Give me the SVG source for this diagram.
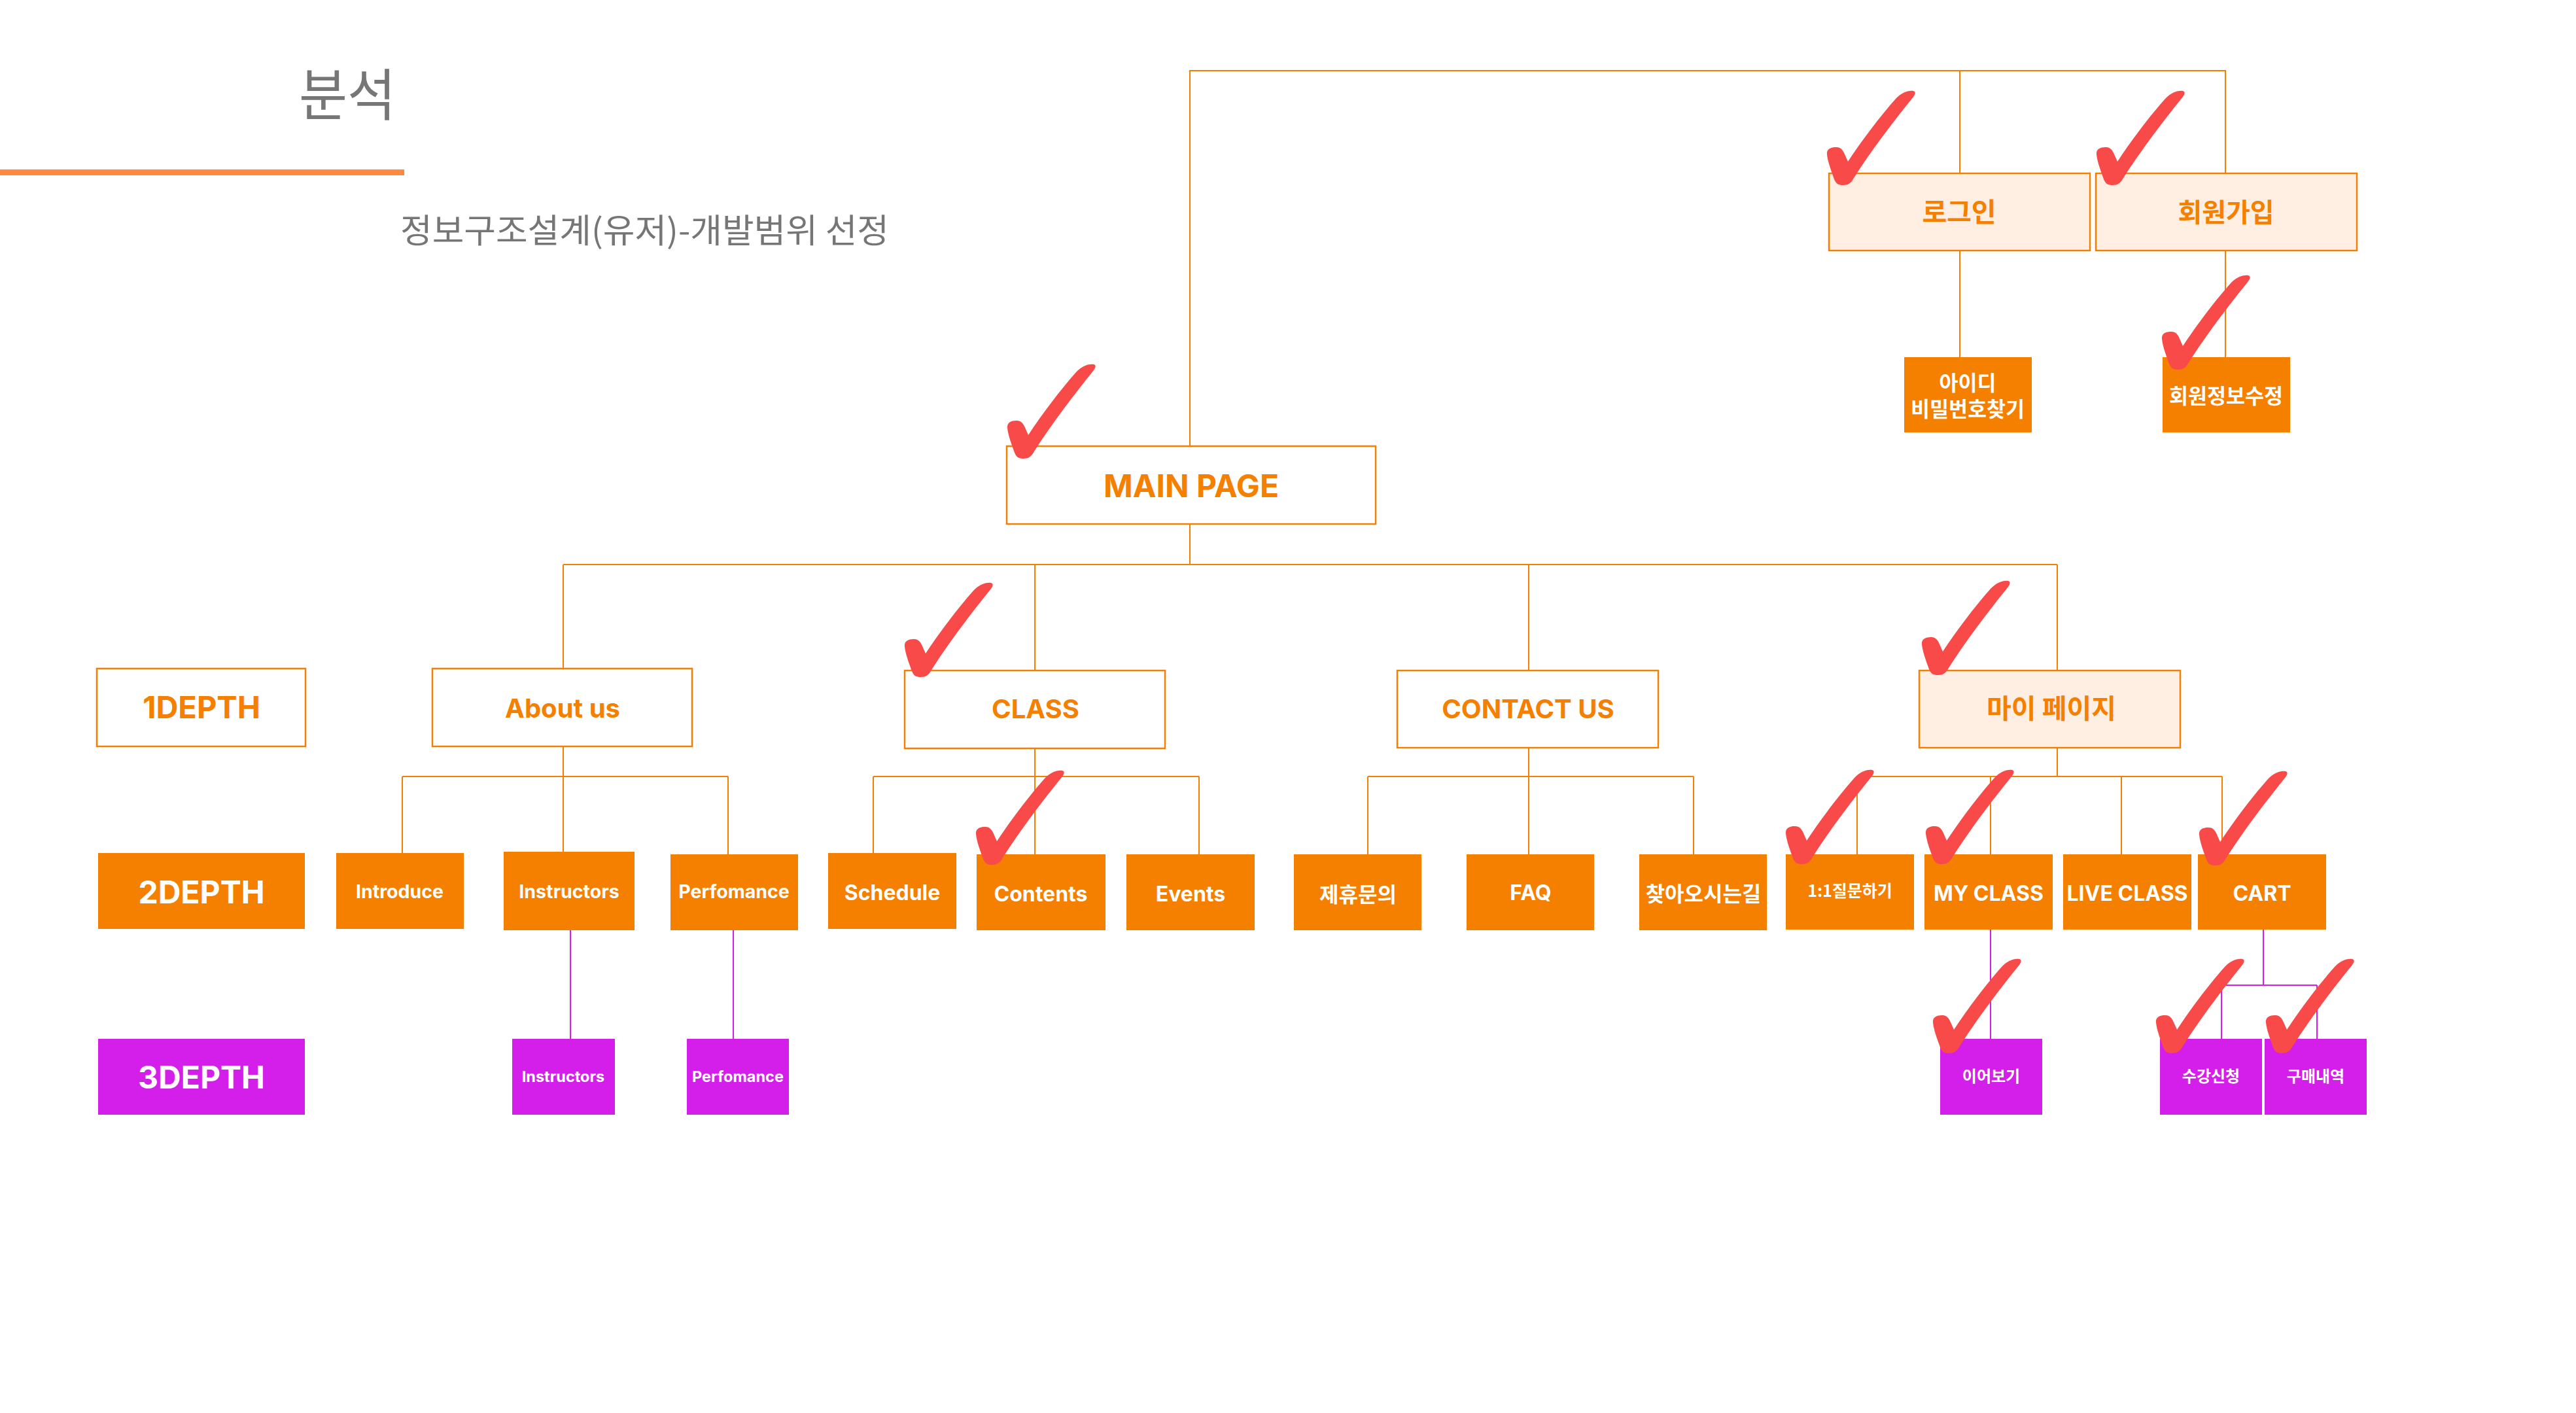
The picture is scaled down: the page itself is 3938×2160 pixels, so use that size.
<svg xmlns="http://www.w3.org/2000/svg" xmlns:xlink="http://www.w3.org/1999/xlink" width="3938" height="2160" viewBox="0 0 3938 2160">
<style>
.t{font-family:Inter,"Noto Sans CJK KR",sans-serif;font-weight:700;text-anchor:middle}
.k{font-family:"Noto Sans CJK KR",Inter,sans-serif;font-weight:700;text-anchor:middle}
.o{fill:#F58000}
.w{fill:#FFFFFF}
.bw{fill:#FFFFFF;stroke:#F58000;stroke-width:2.5}
.bp{fill:#FFEFE2;stroke:#F58000;stroke-width:2.5}
.bo{fill:#F58000}
.bv{fill:#D41FEB}
.ln{stroke:#F58000;stroke-width:2;fill:none}
.lv{stroke:#D41FEB;stroke-width:2;fill:none}
.head{font-family:"Noto Sans CJK KR",sans-serif;fill:#767676;font-weight:400}
</style>
<defs>
<path id="chk" fill="#F94A4A" d="M -10 -55 C -2 -56 2 -50 5 -42 L 9 -33 C 30 -65 58 -102 82 -129 C 91 -138 100 -142 109 -141 C 113 -140 112 -136 109 -132 C 80 -96 46 -52 18 -8 C 14 0 9 3 2 3 C -6 3 -9 1 -12 -6 C -17 -20 -22 -33 -23 -44 C -24 -52 -17 -55 -10 -55 Z"/>
</defs>
<rect x="0" y="0" width="3938" height="2160" fill="#FFFFFF"/>

<g id="header">
<text class="head" x="457" y="177" font-size="86" textLength="148" lengthAdjust="spacingAndGlyphs">분석</text>
<rect x="0" y="259" width="618" height="9" fill="#FF8A3D"/>
<text class="head" x="612" y="371" font-size="51" textLength="747" lengthAdjust="spacingAndGlyphs">정보구조설계(유저)-개발범위 선정</text>
</g>

<g id="connectors">
<path class="ln" d="M1819 682 V108 H3402 V265 M2996 108 V265 M2996 383 V546 M3402 383 V546"/>
<path class="ln" d="M1819 801 V863 M861 863 H3145 M861 863 V1022 M1582 863 V1025 M2337 863 V1025 M3145 863 V1025"/>
<path class="ln" d="M861 1141 V1187 M615 1187 H1113 M615 1187 V1304 M861 1187 V1302 M1113 1187 V1306"/>
<path class="ln" d="M1582 1144 V1187 M1335 1187 H1833 M1335 1187 V1304 M1582 1187 V1306 M1833 1187 V1306"/>
<path class="ln" d="M2337 1143 V1187 M2091 1187 H2589 M2091 1187 V1306 M2337 1187 V1306 M2589 1187 V1306"/>
<path class="ln" d="M3145 1143 V1187 M2839 1187 H3397 M2839 1187 V1306 M3043 1187 V1306 M3243 1187 V1306 M3397 1187 V1306"/>
<path class="lv" d="M872 1422 V1588 M1121 1422 V1588 M3043 1421 V1588 M3460 1421 V1506 M3396 1506 H3542 M3396 1506 V1588 M3542 1506 V1588"/>
</g>

<g id="n-login"><rect class="bp" x="2796" y="265" width="399" height="118"/><text class="k o" x="2995" y="339" font-size="41">로그인</text></g>
<g id="n-signup"><rect class="bp" x="3204" y="265" width="399" height="118"/><text class="k o" x="3403" y="339" font-size="40">회원가입</text></g>
<g id="n-findid"><rect class="bo" x="2911" y="546" width="195" height="115"/><text class="k w" x="3008" y="597" font-size="31.5">아이디</text><text class="k w" x="3008" y="637" font-size="31.5">비밀번호찾기</text></g>
<g id="n-editinfo"><rect class="bo" x="3306" y="546" width="195" height="115"/><text class="k w" x="3403" y="617" font-size="31.5">회원정보수정</text></g>
<g id="n-main"><rect class="bw" x="1539" y="682" width="564" height="119"/><text class="t o" x="1821" y="760" font-size="48">MAIN PAGE</text></g>

<g id="n-1depth"><rect class="bw" x="148" y="1022" width="319" height="119"/><text class="t o" x="308" y="1098" font-size="47" font-weight="800">1DEPTH</text></g>
<g id="n-about"><rect class="bw" x="661" y="1022" width="397" height="119"/><text class="t o" x="860" y="1097" font-size="40">About us</text></g>
<g id="n-class"><rect class="bw" x="1383" y="1025" width="398" height="119"/><text class="t o" x="1583" y="1098" font-size="40">CLASS</text></g>
<g id="n-contact"><rect class="bw" x="2136" y="1025" width="399" height="118"/><text class="t o" x="2336" y="1098" font-size="40">CONTACT US</text></g>
<g id="n-mypage"><rect class="bp" x="2934" y="1025" width="399" height="118"/><text class="k o" x="3136" y="1098" font-size="41">마이 페이지</text></g>

<g id="n-2depth"><rect class="bo" x="150" y="1304" width="316" height="116"/><text class="t w" x="308" y="1381" font-size="48" font-weight="800">2DEPTH</text></g>
<g id="n-introduce"><rect class="bo" x="514" y="1304" width="195" height="116"/><text class="t w" x="611" y="1373" font-size="28.5" font-weight="800">Introduce</text></g>
<g id="n-instructors"><rect class="bo" x="770" y="1302" width="200" height="120"/><text class="t w" x="870" y="1373" font-size="28.5" font-weight="800">Instructors</text></g>
<g id="n-perfomance"><rect class="bo" x="1025" y="1306" width="195" height="116"/><text class="t w" x="1122" y="1373" font-size="28.5" font-weight="800">Perfomance</text></g>
<g id="n-schedule"><rect class="bo" x="1266" y="1304" width="196" height="116"/><text class="t w" x="1364" y="1376" font-size="32">Schedule</text></g>
<g id="n-contents"><rect class="bo" x="1493" y="1306" width="197" height="116"/><text class="t w" x="1591" y="1378" font-size="32">Contents</text></g>
<g id="n-events"><rect class="bo" x="1722" y="1306" width="196" height="116"/><text class="t w" x="1820" y="1378" font-size="32">Events</text></g>
<g id="n-partner"><rect class="bo" x="1978" y="1306" width="195" height="116"/><text class="k w" x="2076" y="1379" font-size="32">제휴문의</text></g>
<g id="n-faq"><rect class="bo" x="2242" y="1306" width="195" height="116"/><text class="t w" x="2340" y="1376" font-size="32">FAQ</text></g>
<g id="n-directions"><rect class="bo" x="2506" y="1306" width="195" height="116"/><text class="k w" x="2604" y="1378" font-size="32">찾아오시는길</text></g>
<g id="n-qna"><rect class="bo" x="2730" y="1306" width="196" height="115"/><text class="k w" x="2828" y="1371" font-size="25">1:1질문하기</text></g>
<g id="n-myclass"><rect class="bo" x="2942" y="1306" width="196" height="115"/><text class="t w" x="3040" y="1377" font-size="32">MY CLASS</text></g>
<g id="n-liveclass"><rect class="bo" x="3154" y="1306" width="196" height="115"/><text class="t w" x="3252" y="1377" font-size="32">LIVE CLASS</text></g>
<g id="n-cart"><rect class="bo" x="3360" y="1306" width="196" height="115"/><text class="t w" x="3458" y="1377" font-size="32">CART</text></g>

<g id="n-3depth"><rect class="bv" x="150" y="1588" width="316" height="116"/><text class="t w" x="308" y="1664" font-size="48" font-weight="800">3DEPTH</text></g>
<g id="n-instructors3"><rect class="bv" x="783" y="1588" width="157" height="116"/><text class="t w" x="861" y="1654" font-size="23.5" font-weight="800">Instructors</text></g>
<g id="n-perfomance3"><rect class="bv" x="1050" y="1588" width="156" height="116"/><text class="t w" x="1128" y="1654" font-size="23.5" font-weight="800">Perfomance</text></g>
<g id="n-resume"><rect class="bv" x="2966" y="1588" width="156" height="116"/><text class="k w" x="3044" y="1654" font-size="24">이어보기</text></g>
<g id="n-enroll"><rect class="bv" x="3302" y="1588" width="156" height="116"/><text class="k w" x="3380" y="1654" font-size="24">수강신청</text></g>
<g id="n-orders"><rect class="bv" x="3462" y="1588" width="156" height="116"/><text class="k w" x="3540" y="1654" font-size="24">구매내역</text></g>

<g id="checks">
<use xlink:href="#chk" x="2816" y="280"/>
<use xlink:href="#chk" x="3228" y="280"/>
<use xlink:href="#chk" x="3328" y="562"/>
<use xlink:href="#chk" x="1563" y="698"/>
<use xlink:href="#chk" x="1406" y="1032"/>
<use xlink:href="#chk" x="2961" y="1029"/>
<use xlink:href="#chk" x="1515" y="1319"/>
<use xlink:href="#chk" x="2753" y="1318"/>
<use xlink:href="#chk" x="2967" y="1318"/>
<use xlink:href="#chk" x="3385" y="1320"/>
<use xlink:href="#chk" x="2978" y="1607"/>
<use xlink:href="#chk" x="3319" y="1607"/>
<use xlink:href="#chk" x="3487" y="1607"/>
</g>
</svg>
